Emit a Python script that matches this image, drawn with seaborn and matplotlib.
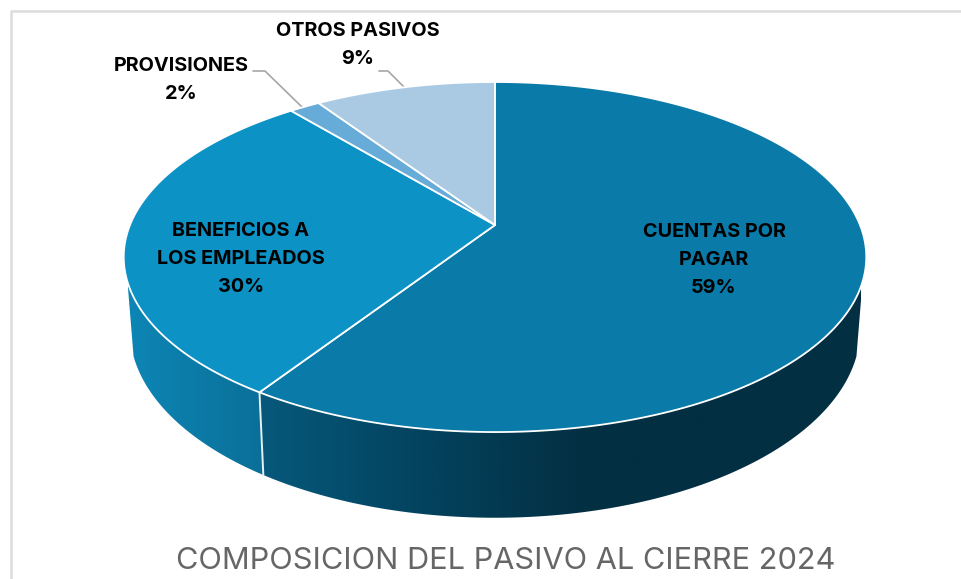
import numpy as np
import pandas as pd
import matplotlib
matplotlib.use("Agg")
import matplotlib.pyplot as plt
import seaborn as sns
from matplotlib.colors import LinearSegmentedColormap
from matplotlib.patches import Polygon

# --- DATA ---
labels = ["CUENTAS POR\nPAGAR", "BENEFICIOS A\nLOS EMPLEADOS", "PROVISIONES", "OTROS PASIVOS"]
shares = [59.2, 29.8, 1.6, 9.4]
colors = ["#0a7aa8", "#0d92c6", "#67acd8", "#aacae4"]

# --- CONFIG ---
CX = 495
TOP_B, BOTTOM_B = 225, 295
SLOPE = -128
PERSP = 0.183
TOP_A, BOTTOM_A = 365, 359
LABEL_POS = [(714, 260), (241, 259), (181, 80), (358, 45)]

sns.set_theme(style="white")
plt.rcParams["font.family"] = ["Inter", "DejaVu Sans"]


def project(theta, a, b):
    # theta is clockwise from 12 o'clock, tilted circle -> screen pixels
    u, v = np.sin(theta), np.cos(theta)
    w = 1 + PERSP * v
    return CX + a * u / w, (SLOPE * v + b) / w


def side_piece(ax, t0, t1, stops, x0, x1):
    t = np.linspace(t0, t1, 200)
    xt, yt = project(t, TOP_A, TOP_B)
    xb, yb = project(t[::-1], BOTTOM_A, BOTTOM_B)
    poly = Polygon(np.c_[np.r_[xt, xb], np.r_[yt, yb]], closed=True, fc="none", ec="none")
    ax.add_patch(poly)
    cmap = LinearSegmentedColormap.from_list("side", stops)
    im = ax.imshow(np.linspace(0, 1, 256)[None, :], cmap=cmap, aspect="auto",
                   extent=(x0, x1, 530, 270), zorder=1)
    im.set_clip_path(poly)


df = pd.DataFrame({"label": labels, "share": shares, "color": colors})
df["end"] = df["share"].cumsum() / df["share"].sum() * 2 * np.pi
df["start"] = df["end"].shift(fill_value=0)

fig, ax = plt.subplots(figsize=(9.61, 5.79), dpi=100)
fig.subplots_adjust(0, 0, 1, 1)
ax.set_xlim(0, 961)
ax.set_ylim(579, 0)
ax.axis("off")

# frame of the chart area
ax.plot([961, 11, 11], [11, 11, 579], color="#dcdcdc", lw=1.8, zorder=0)

# visible wall, only the front part of the rim
rim_limit = np.arccos(-0.317)
split = df["end"].iloc[0]
side_piece(ax, rim_limit, split, [(0, "#032f42"), (0.45, "#032f42"), (0.72, "#03435f"), (1, "#075a7d")], 861, 250)
side_piece(ax, split, 2 * np.pi - rim_limit, [(0, "#0d86b5"), (1, "#0a6c94")], 128, 285)
xs = project(split, TOP_A, TOP_B)
xe = project(split, BOTTOM_A, BOTTOM_B)
ax.plot([xs[0], xe[0]], [xs[1], xe[1]], color="#e8f0f4", lw=1.4, zorder=2)

# top face
for row in df.itertuples():
    t = np.linspace(row.start, row.end, 200)
    x, y = project(t, TOP_A, TOP_B)
    pts = np.c_[np.r_[CX, x], np.r_[TOP_B, y]]
    ax.add_patch(Polygon(pts, closed=True, fc=row.color, ec="white", lw=1.3, zorder=3, joinstyle="round"))

# leader lines
ax.plot([253, 265, 303], [71, 71, 108], color="#a6a6a6", lw=1.2, zorder=2)
ax.plot([379, 388, 405], [71, 71, 88], color="#a6a6a6", lw=1.2, zorder=2)

for row, (px, py) in zip(df.itertuples(), LABEL_POS):
    ax.text(px, py, f"{row.label}\n{row.share:.0f}%", ha="center", va="center", fontsize=14.3,
            fontweight="bold", color="black", linespacing=1.74, zorder=4)

ax.text(506, 561, "COMPOSICION DEL PASIVO AL CIERRE 2024", ha="center", va="center",
        fontsize=22.1, color="#666666", zorder=4)

fig.savefig("out.png", dpi=100)
plt.close(fig)
